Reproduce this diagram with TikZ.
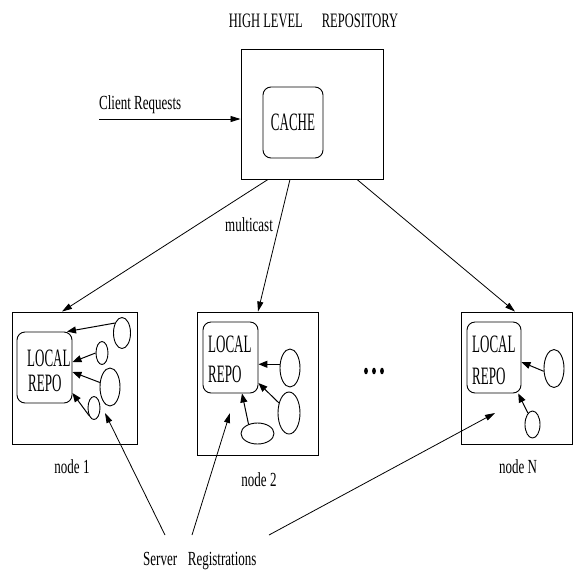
\documentclass[tikz,border=0pt]{standalone}
\usepackage{fontspec}
\setmainfont{Liberation Serif}
\newfontfamily\labelfont[FakeStretch=0.65]{Liberation Serif}
\newfontfamily\titlefont[FakeStretch=0.61]{Liberation Serif}
\newfontfamily\boxfont[FakeStretch=0.52]{Liberation Serif}
\usetikzlibrary{shapes.geometric,arrows.meta,calc}

\begin{document}
\begin{tikzpicture}[x=1pt,y=-1pt,
  box/.style={draw, line width=0.9pt, inner sep=0pt},
  repo/.style={draw, line width=0.9pt, rounded corners=8pt, inner sep=0pt},
  ell/.style={draw, ellipse, line width=0.9pt, inner sep=0pt},
  wh/.style 2 args={minimum width=#1pt, minimum height=#2pt},
  lbl/.style={inner sep=0pt, font=\labelfont\fontsize{20}{24}\selectfont},
  ttl/.style={inner sep=0pt, font=\titlefont\fontsize{20.5}{24}\selectfont},
  boxlbl/.style={inner sep=0pt, font=\boxfont\fontsize{25}{30}\selectfont},
  arr/.style={-{Triangle[length=10pt,width=6pt]}, line width=0.8pt},
  inarr/.style={-{Triangle[length=9pt,width=7pt]}, line width=1pt}]

\useasboundingbox (0,0) rectangle (573,571);

% ---- high level repository with its cache ----
\node[ttl, anchor=base] (title) at (313.5,27) {HIGH LEVEL\hspace{19pt}REPOSITORY};
\node[box, wh={142}{130}] (hb) at (312,114) {};
\node[repo, wh={60}{71}, boxlbl] (cache) at (293,122.5) {CACHE};
\node[lbl, anchor=base west] (client) at (99,109) {Client Requests};
\coordinate (cin) at (99,119);
\draw[arr] (cin) -- (hb.west |- cin);

% ---- node 1 ----
\node[box, wh={125}{132}] (n1) at (74.5,378) {};
\node[repo, wh={55}{71}] (r1) at (44.5,367.5) {};
\node[boxlbl, anchor=base west] (l1a) at (27,366) {LOCAL};
\node[boxlbl, anchor=base west] (l1b) at (28,391) {REPO};
\node[ell, wh={17}{31}] (e11) at (122,333) {};
\node[ell, wh={12}{23}] (e12) at (102,353) {};
\node[ell, wh={20}{38}] (e13) at (110,387) {};
\node[ell, wh={12}{23}] (e14) at (94,408) {};
\draw[inarr] (e11.125) -- (r1.north -| 67,0);
\draw[inarr] (e12.west) -- (r1.east |- 0,362);
\draw[inarr] (e13.156) -- (r1.east |- 0,372);
\draw[inarr] (e14.236) -- (r1.east |- 0,393);
\node[lbl, anchor=base] (lab1) at (72,473) {node 1};

% ---- node 2 ----
\node[box, wh={121}{143}] (n2) at (257.5,383.5) {};
\node[repo, wh={55}{71}] (r2) at (230.5,357.5) {};
\node[boxlbl, anchor=base west] (l2a) at (208,352) {LOCAL};
\node[boxlbl, anchor=base west] (l2b) at (208,382) {REPO};
\node[ell, wh={20}{38}] (e21) at (290,368) {};
\node[ell, wh={22}{42}] (e22) at (289,413) {};
\node[ell, wh={33}{21}] (e23) at (257.5,433.5) {};
\draw[inarr] (e21.160) -- (r2.east |- e21.160);
\draw[inarr] (e22.135) -- (r2.east |- 0,383);
\draw[inarr] (e23.134) -- (r2.south -| 242,0);
\node[lbl, anchor=base] (lab2) at (259,486) {node 2};

% ---- the dots between node 2 and node N ----
\fill (366,371) ellipse [x radius=1.9pt, y radius=3.3pt];
\fill (374,371) ellipse [x radius=1.9pt, y radius=3.3pt];
\fill (382,371) ellipse [x radius=1.9pt, y radius=3.3pt];

% ---- node N ----
\node[box, wh={111}{132}] (nN) at (516.5,378) {};
\node[repo, wh={54}{71}] (rN) at (494,357.5) {};
\node[boxlbl, anchor=base west] (lNa) at (472,352) {LOCAL};
\node[boxlbl, anchor=base west] (lNb) at (472,384) {REPO};
\node[ell, wh={20}{38}] (eN1) at (554,368.5) {};
\node[ell, wh={15}{27}] (eN2) at (532.5,424.5) {};
\draw[inarr] (eN1.195) -- (rN.east |- 0,362);
\draw[inarr] (eN2.112) -- (rN.-56);
\node[lbl, anchor=base] (labN) at (518,473) {node N};

% ---- multicast from the repository to every node ----
\draw[arr] (hb.south -| 268,0) -- (n1.north -| 62,0);
\draw[arr] (hb.south -| 290,0) -- (n2.north -| 258,0);
\draw[arr] (hb.south -| 357,0) -- (nN.north -| 515,0);
\node[lbl, anchor=base west] (mc) at (225,231) {multicast};

% ---- server registrations ----
\node[lbl, anchor=base west] (sreg) at (143,565) {Server\hspace{10.7pt}Registrations};
\coordinate (s1) at (165,535);
\coordinate (s2) at (192,535);
\coordinate (s3) at (269,535);
\coordinate (t1) at (105,413);
\coordinate (t2) at (230,413);
\coordinate (t3) at (495,413);
\draw[arr] (s1) -- (t1);
\draw[arr] (s2) -- (t2);
\draw[arr] (s3) -- (t3);
\end{tikzpicture}
\end{document}
